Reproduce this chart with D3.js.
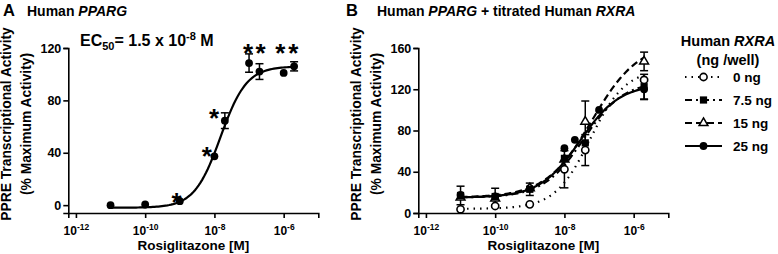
<!DOCTYPE html>
<html><head><meta charset="utf-8">
<script src="https://cdn.jsdelivr.net/npm/d3@7"></script>
<style>
body{margin:0;background:#fff}
svg{display:block}
text{font-family:"Liberation Sans",Arial,sans-serif;font-weight:bold;fill:#000}
</style>
</head><body>
<svg id="c" width="778" height="254"></svg>
<script>
// ---------- data ----------
const xTicks = [1e-12, 1e-10, 1e-8, 1e-6];
const xTickExp = ["-12", "-10", "-8", "-6"];
const yTicksA = [0, 40, 80, 120];
const yTicksB = [0, 40, 80, 120, 160];

// Panel A: Human PPARG
const concA = [1e-11, 1e-10, 1e-9, 1e-8, 2e-8, 1e-7, 2e-7, 1e-6, 2e-6];
const meanA = [0, 0.5, 3, 37.3, 64.5, 108.5, 102, 101, 106];
const semA  = [0, 0, 0, 0, 6, 7, 6, 0, 3.5];
const fitA  = [-2, 106, -7.824, 1.15]; // bottom, top, logEC50, hill
const starConcA = [8e-10, 6e-9, 9.8e-9, 9.4e-8, 2.15e-7, 8e-7, 1.9e-6];
const starValA  = [6.5, 42, 70.6, 120.5, 120.5, 120.5, 120.5];

// Panel B: Human PPARG + titrated Human RXRA
const seriesB = ["0 ng", "7.5 ng", "15 ng", "25 ng"];
const concB0  = [1e-11, 1e-10, 1e-9, 1e-8, 4e-8, 2e-6];
const meanB0  = [3.6, 6.8, 8.4, 42.4, 61, 129];
const semB0   = [0, 0, 0, 18, 15, 0];
const concB1  = [1e-11, 1e-10, 1e-9, 1e-8, 4e-8, 2e-6];
const meanB1  = [17, 16, 23, 53, 68, 122.5];
const semB1   = [9, 8, 6, 0, 0, 12];
const concB2  = [1e-11, 1e-10, 1e-9, 1e-8, 4e-8, 2e-6];
const meanB2  = [15, 14, 24, 52, 88.6, 147];
const semB2   = [0, 0, 0, 0, 20, 9];
const concB3  = [1e-11, 1e-10, 1e-9, 1e-8, 2e-8, 1e-7, 2e-6];
const meanB3  = [17.5, 16, 24, 62.8, 71, 100, 120];
const semB3   = [0, 0, 0, 0, 0, 0, 10];
const fitB0 = [4, 140, -7.25, 0.85];
const fitB1 = [15, 128, -7.45, 0.75];
const fitB2 = [15, 165, -7.2, 0.65];
const fitB3 = [15, 125, -7.55, 0.75];

// ---------- helpers ----------
const svg = d3.select("#c");
const xDomain = [Math.pow(10, -12.22), 1e-5];
const makeX = x0 => d3.scaleLog().domain(xDomain).range([x0, x0 + 250]);
const xA = makeX(68.3), xB = makeX(418.3);
const yA = d3.scaleLinear().domain([-6, 120]).range([213, 48]);
const yB = d3.scaleLinear().domain([0, 160]).range([213, 48]);

function drawAxes(x, y, yt, labelX) {
  const gx = svg.append("g").attr("transform", "translate(0,213)")
    .call(d3.axisBottom(x).tickValues(xTicks).tickFormat(() => "").tickSizeOuter(0).tickSize(5).tickPadding(3));
  gx.selectAll(".tick text").each(function (d, i) {
    const t = d3.select(this).attr("y", 13).attr("dy", "0.71em").style("font-size", "12px").attr("fill", "#000");
    t.append("tspan").text("10");
    t.append("tspan").attr("dy", "-5").style("font-size", "8.5px").text(xTickExp[i]);
  });
  const gy = svg.append("g").attr("transform", `translate(${x.range()[0]},0)`)
    .call(d3.axisLeft(y).tickValues(yt).tickSizeOuter(0).tickSize(5).tickPadding(2));
  gy.selectAll(".tick text").style("font-size", "12.5px").attr("fill", "#000");
  [gx, gy].forEach(g => {
    g.selectAll("path.domain").attr("stroke", "#000").attr("stroke-width", 1.6);
    g.selectAll(".tick line").attr("stroke", "#000").attr("stroke-width", 1.6);
    g.attr("font-family", null).attr("font-size", null);
  });
  const xm = (x.range()[0] + x.range()[1]) / 2;
  svg.append("text").attr("x", xm).attr("y", 250).attr("text-anchor", "middle")
    .style("font-size", "13.5px").text("Rosiglitazone [M]");
  const yc = 124;
  svg.append("text").attr("transform", `translate(${labelX},${yc}) rotate(-90)`).attr("text-anchor", "middle")
    .style("font-size", "13.8px").text("PPRE Transcriptional Activity");
  svg.append("text").attr("transform", `translate(${labelX + 20},${yc}) rotate(-90)`).attr("text-anchor", "middle")
    .style("font-size", "13.8px").text("(% Maximum Activity)");
}

function fitLine(x, y, p, dash) {
  const [b, t, ec, h] = p;
  const logs = d3.range(0, 101).map(i => -11 + i * (5.3 / 100));
  const pts = logs.map(l => [Math.pow(10, l), b + (t - b) / (1 + Math.pow(10, (ec - l) * h))]);
  svg.append("path").datum(pts)
    .attr("d", d3.line().x(d => x(d[0])).y(d => y(d[1])))
    .attr("fill", "none").attr("stroke", "#000").attr("stroke-width", 2.2)
    .attr("stroke-dasharray", dash).attr("stroke-linecap", dash ? "butt" : "round");
}

function errorBars(x, y, conc, mean, sem) {
  const g = svg.append("g").attr("stroke", "#000").attr("stroke-width", 1.5);
  conc.forEach((c, i) => {
    if (!sem[i]) return;
    const cx = x(c), y1 = y(mean[i] + sem[i]), y2 = y(mean[i] - sem[i]);
    g.append("line").attr("x1", cx).attr("x2", cx).attr("y1", y1).attr("y2", y2);
    g.append("line").attr("x1", cx - 4).attr("x2", cx + 4).attr("y1", y1).attr("y2", y1);
    g.append("line").attr("x1", cx - 4).attr("x2", cx + 4).attr("y1", y2).attr("y2", y2);
  });
}

function marker(g, kind, cx, cy) {
  if (kind === 0) g.append("circle").attr("cx", cx).attr("cy", cy).attr("r", 3.6).attr("fill", "#fff").attr("stroke", "#000").attr("stroke-width", 1.6);
  if (kind === 1) g.append("rect").attr("x", cx - 3.6).attr("y", cy - 3.6).attr("width", 7.2).attr("height", 7.2).attr("fill", "#000");
  if (kind === 2) g.append("path").attr("transform", `translate(${cx},${cy})`).attr("d", d3.symbol(d3.symbolTriangle, 34)()).attr("fill", "#fff").attr("stroke", "#000").attr("stroke-width", 1.5);
  if (kind === 3) g.append("circle").attr("cx", cx).attr("cy", cy).attr("r", 3.9).attr("fill", "#000");
}

// ---------- Panel A ----------
svg.append("text").attr("x", 3).attr("y", 15.5).style("font-size", "16.5px").text("A");
const tA = svg.append("text").attr("x", 27).attr("y", 15.5).style("font-size", "14px");
tA.append("tspan").text("Human ");
tA.append("tspan").style("font-style", "italic").text("PPARG");

drawAxes(xA, yA, yTicksA, 10.5);
fitLine(xA, yA, fitA, null);
errorBars(xA, yA, concA, meanA, semA);
const gA = svg.append("g");
concA.forEach((c, i) => marker(gA, 3, xA(c), yA(meanA[i])));
starConcA.forEach((c, i) => {
  svg.append("text").attr("x", xA(c)).attr("y", yA(starValA[i]) + 14.5).attr("text-anchor", "middle")
    .style("font-size", "26px").text("*");
});
const ec = svg.append("text").attr("x", 80).attr("y", 46).style("font-size", "16px");
ec.append("tspan").text("EC");
ec.append("tspan").attr("dy", 4).style("font-size", "11px").text("50");
ec.append("tspan").attr("dy", -4).text("= 1.5 x 10");
ec.append("tspan").attr("dy", -6).style("font-size", "11px").text("-8");
ec.append("tspan").attr("dy", 6).text(" M");

// ---------- Panel B ----------
svg.append("text").attr("x", 346).attr("y", 15.5).style("font-size", "16.5px").text("B");
const tB = svg.append("text").attr("x", 377).attr("y", 15.5).style("font-size", "14px");
tB.append("tspan").text("Human ");
tB.append("tspan").style("font-style", "italic").text("PPARG");
tB.append("tspan").text(" + titrated Human ");
tB.append("tspan").style("font-style", "italic").text("RXRA");

drawAxes(xB, yB, yTicksB, 360.5);
const dashes = ["1.5,5", "7,4,2,4", "7,4", null];
const fitsB = [fitB0, fitB1, fitB2, fitB3];
const concsB = [concB0, concB1, concB2, concB3];
const meansB = [meanB0, meanB1, meanB2, meanB3];
const semsB = [semB0, semB1, semB2, semB3];
fitsB.forEach((p, k) => fitLine(xB, yB, p, dashes[k]));
[3, 2, 1, 0].forEach(k => errorBars(xB, yB, concsB[k], meansB[k], semsB[k]));
[3, 2, 1, 0].forEach(k => {
  const g = svg.append("g");
  concsB[k].forEach((c, i) => marker(g, k, xB(c), yB(meansB[k][i])));
});

// legend
const lt = svg.append("text").attr("x", 728).attr("y", 46).attr("text-anchor", "middle").style("font-size", "14.5px");
lt.append("tspan").text("Human ");
lt.append("tspan").style("font-style", "italic").text("RXRA");
svg.append("text").attr("x", 728).attr("y", 65).attr("text-anchor", "middle").style("font-size", "14.5px").text("(ng /well)");
seriesB.forEach((s, k) => {
  const ry = 77 + k * 23;
  svg.append("line").attr("x1", 685).attr("x2", 722).attr("y1", ry).attr("y2", ry)
    .attr("stroke", "#000").attr("stroke-width", 2.2).attr("stroke-dasharray", dashes[k]);
  marker(svg.append("g"), k, 703.5, ry);
  svg.append("text").attr("x", 733).attr("y", ry + 4.5).style("font-size", "13.5px").text(s);
});
</script>
</body></html>
